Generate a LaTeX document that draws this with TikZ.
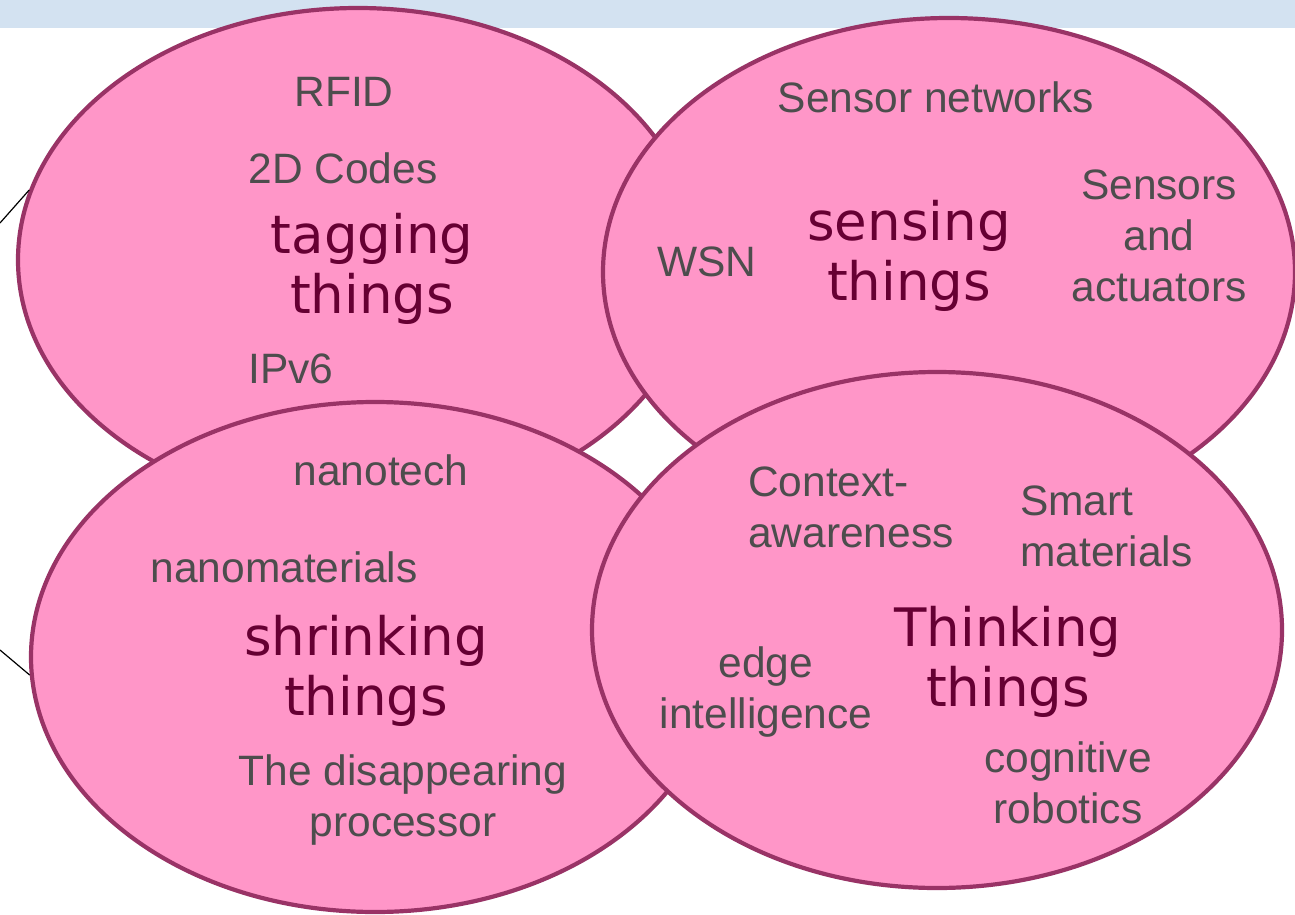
\documentclass[tikz,border=0pt]{standalone}
\usepackage{fontspec}
\setmainfont{Liberation Sans}
\newfontfamily\titlefont{DejaVu Sans}
\usetikzlibrary{shapes.geometric}
\definecolor{bandblue}{HTML}{D3E2F1}
\definecolor{pinkfill}{HTML}{FF96C8}
\definecolor{plum}{HTML}{993366}
\definecolor{greytext}{HTML}{4D4D4D}
\definecolor{titlecol}{HTML}{660033}
\tikzset{
  bubble/.style={ellipse, draw=plum, fill=pinkfill, line width=4.2pt, inner sep=0pt},
  item/.style={text=greytext, font=\fontsize{42.5}{51}\selectfont, align=center, inner sep=0pt},
  itemleft/.style={item, align=left, anchor=west},
  title/.style={text=titlecol, font=\titlefont\fontsize{53}{60}\selectfont, align=center, inner sep=0pt},
  link/.style={draw=black, line width=1.2pt}
}
\begin{document}
\begin{tikzpicture}[x=1pt,y=-1pt]
\useasboundingbox (0,0) rectangle (1295,915);
\fill[bandblue] (0,0) rectangle (1295,28);
% ellipses
\node[bubble, minimum width=680pt, minimum height=504pt] (tag) at (358,260) {};
\node[bubble, minimum width=692pt, minimum height=508pt] (sense) at (949,272) {};
\node[bubble, minimum width=688pt, minimum height=510pt] (shrink) at (375,657) {};
\node[bubble, minimum width=690pt, minimum height=516pt] (think) at (937,630) {};
% connectors
\coordinate (la) at (0,223);
\coordinate (lb) at (0,650);
\draw[link] (la) -- (tag.168);
\draw[link] (lb) -- (shrink.183);
% tagging
\node[item] (rfid) at (344,92) {RFID};
\node[item] (codes) at (343,168) {2D Codes};
\node[title] (tagt) at (372,269) {tagging\\things};
\node[item] (ipv6) at (291,369) {IPv6};
% sensing
\node[item] (sn) at (936,97) {Sensor networks};
\node[item] (wsn) at (707,262) {WSN};
\node[title] (senset) at (909,256) {sensing\\things};
\node[item] (sa) at (1159,236) {Sensors\\and\\actuators};
% shrinking
\node[item] (nano) at (381,470) {nanotech};
\node[item] (nanom) at (284,567) {nanomaterials};
\node[title] (shrinkt) at (366,671) {shrinking\\things};
\node[item] (disp) at (403,800) {The disappearing\\processor};
% thinking
\node[itemleft] (ctx) at (748,507) {Context-\\awareness};
\node[itemleft] (smart) at (1020,526) {Smart\\materials};
\node[title] (thinkt) at (1008,662) {Thinking\\things};
\node[item] (edge) at (766,692) {edge\\intelligence};
\node[item] (cog) at (1068,783) {cognitive\\robotics};
\end{tikzpicture}
\end{document}
